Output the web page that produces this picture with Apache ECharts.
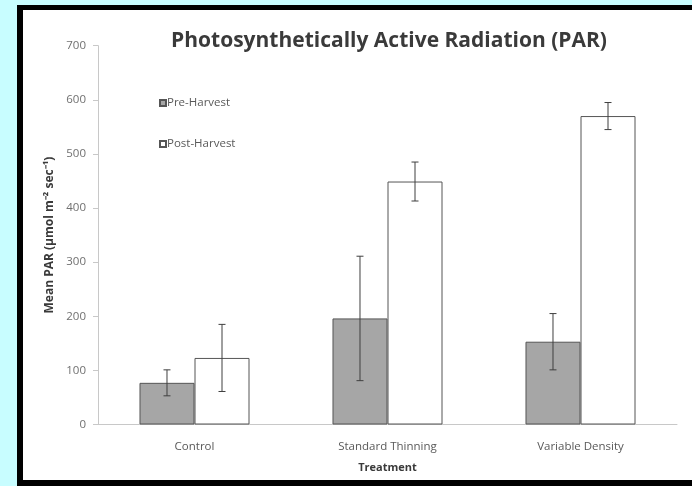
<!DOCTYPE html>
<html>
<head>
<meta charset="utf-8">
<script src="https://cdn.jsdelivr.net/npm/echarts@6/dist/echarts.min.js"></script>
<style>
html,body{margin:0;padding:0;background:#c8fdff;overflow:hidden;}
#c{position:absolute;left:0;top:0;width:692px;height:486px;}
#frame{position:absolute;left:17px;top:5px;width:700px;height:481px;background:#000;}
#inner{position:absolute;left:23px;top:10px;width:700px;height:470px;background:#fff;}
</style>
</head>
<body>
<div id="frame"></div>
<div id="inner"></div>
<div id="c"></div>
<script>
const categories = ['Control', 'Standard Thinning', 'Variable Density'];
const preHarvest = [77, 196, 153];
const postHarvest = [123, 449, 570];
const preError = [24, 115, 52];
const postError = [62, 36, 25];
const yTicks = [0, 100, 200, 300, 400, 500, 600, 700];

const chart = echarts.init(document.getElementById('c'), null, {renderer: 'canvas'});
const FONT = '"Open Sans", "Liberation Sans", sans-serif';
const BAR_GAP_RATIO = 0.43;

function errorSeries(name, values, errors, side) {
  return {
    type: 'custom',
    name: name + ' err',
    z: 10,
    silent: true,
    data: values.map((v, i) => [i, v, errors[i]]),
    renderItem: function (params, api) {
      const idx = api.value(0);
      const v = api.value(1);
      const e = api.value(2);
      const band = api.size([1, 0])[0];
      const bw = band * (1 - BAR_GAP_RATIO) / 2;
      const base = api.coord([idx, v]);
      const x = base[0] + side * bw / 2;
      const yTop = api.coord([idx, v + e])[1];
      const yBot = api.coord([idx, v - e])[1];
      const cap = 3.5;
      const style = {stroke: '#3f3f3f', lineWidth: 1, fill: null};
      return {
        type: 'group',
        children: [
          {type: 'line', shape: {x1: x, y1: yTop, x2: x, y2: yBot}, style: style},
          {type: 'line', shape: {x1: x - cap, y1: yTop, x2: x + cap, y2: yTop}, style: style},
          {type: 'line', shape: {x1: x - cap, y1: yBot, x2: x + cap, y2: yBot}, style: style}
        ]
      };
    }
  };
}

chart.setOption({
  backgroundColor: 'transparent',
  animation: false,
  title: {
    text: 'Photosynthetically Active Radiation (PAR)',
    left: 384, top: 26, textAlign: 'center',
    textStyle: {fontFamily: FONT, fontWeight: 'bold', fontSize: 21, color: '#3a3a3a'}
  },
  legend: {
    orient: 'vertical',
    left: 154, top: 92,
    itemWidth: 6, itemHeight: 6, itemGap: 29,
    icon: 'rect',
    data: ['Pre-Harvest', 'Post-Harvest'],
    textStyle: {fontFamily: FONT, fontSize: 11.5, color: '#595959', padding: [0, 0, 0, -4]}
  },
  grid: {left: 98, right: 15, top: 45.7, bottom: 61.5, containLabel: false},
  xAxis: {
    type: 'category',
    data: categories,
    name: 'Treatment',
    nameLocation: 'middle',
    nameGap: 38,
    nameTextStyle: {fontFamily: FONT, fontWeight: 'bold', fontSize: 11, color: '#3a3a3a'},
    axisLine: {lineStyle: {color: '#c8c8c8', width: 1}},
    axisTick: {show: false},
    axisLabel: {fontFamily: FONT, fontSize: 11.5, color: '#595959', margin: 16}
  },
  yAxis: {
    type: 'value',
    min: 0, max: 700, interval: 100,
    name: 'Mean PAR (µmol m⁻² sec⁻¹)',
    nameLocation: 'middle',
    nameGap: 42,
    nameTextStyle: {fontFamily: FONT, fontWeight: 'bold', fontSize: 12, color: '#3a3a3a'},
    axisLine: {show: true, lineStyle: {color: '#c8c8c8', width: 1}},
    axisTick: {show: true, length: 5, lineStyle: {color: '#c8c8c8'}},
    splitLine: {show: false},
    axisLabel: {fontFamily: FONT, fontSize: 11.5, color: '#707070', margin: 12,
      formatter: function (v) { return yTicks.indexOf(v) >= 0 ? String(v) : ''; }}
  },
  series: [
    {
      name: 'Pre-Harvest', type: 'bar', data: preHarvest,
      barGap: '0%', barCategoryGap: (BAR_GAP_RATIO * 100) + '%',
      itemStyle: {color: '#a6a6a6', borderColor: '#555555', borderWidth: 1}
    },
    {
      name: 'Post-Harvest', type: 'bar', data: postHarvest,
      barGap: '0%', barCategoryGap: (BAR_GAP_RATIO * 100) + '%',
      itemStyle: {color: '#ffffff', borderColor: '#555555', borderWidth: 1}
    },
    errorSeries('Pre-Harvest', preHarvest, preError, -1),
    errorSeries('Post-Harvest', postHarvest, postError, 1)
  ]
});
</script>
</body>
</html>
